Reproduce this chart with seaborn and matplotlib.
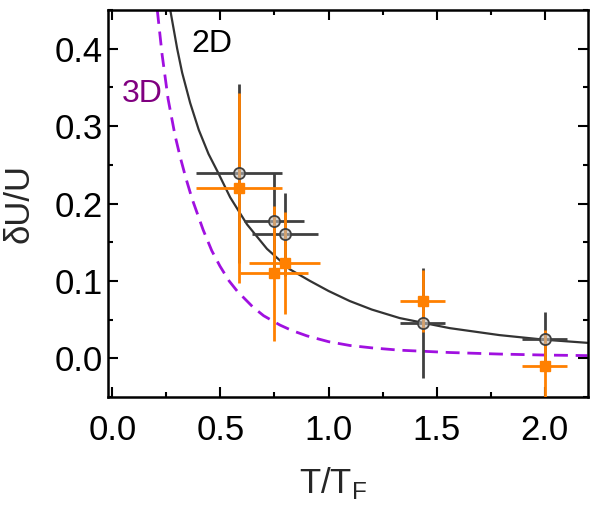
import matplotlib
matplotlib.use("Agg")
import matplotlib.pyplot as plt
from matplotlib.ticker import MultipleLocator, FormatStrFormatter
import pandas as pd
import seaborn as sns

# theory curves
x_2d = [0.268, 0.30, 0.323, 0.36, 0.40, 0.445, 0.489, 0.545, 0.623, 0.715,
        0.821, 0.914, 1.0, 1.098, 1.2, 1.329, 1.435, 1.56, 1.79, 2.0, 2.197]
y_2d = [0.450, 0.400, 0.369, 0.330, 0.295, 0.264, 0.240, 0.208, 0.173, 0.1415,
        0.115, 0.100, 0.087, 0.074, 0.063, 0.052, 0.046, 0.039, 0.030, 0.024, 0.020]
x_3d = [0.208, 0.23, 0.258, 0.29, 0.314, 0.34, 0.369, 0.42, 0.46, 0.498, 0.54,
        0.577, 0.651, 0.70, 0.775, 0.83, 0.90, 1.0, 1.098, 1.2, 1.329, 1.56,
        1.79, 2.0, 2.197]
y_3d = [0.450, 0.393, 0.335, 0.288, 0.260, 0.233, 0.206, 0.166, 0.139, 0.119,
        0.100, 0.087, 0.066, 0.055, 0.043, 0.036, 0.029, 0.0215, 0.0166, 0.0135,
        0.0105, 0.0075, 0.0055, 0.0042, 0.0035]

# measured points (gray circles / orange squares)
gray_x = [0.586, 0.748, 0.798, 1.435, 2.000]
gray_y = [0.239, 0.177, 0.160, 0.046, 0.025]
gray_xerr = [0.20, 0.14, 0.152, 0.104, 0.104]
gray_yerr = [0.116, 0.062, 0.054, 0.071, 0.035]

orange_x = [0.586, 0.748, 0.798, 1.435, 2.000]
orange_y = [0.220, 0.110, 0.123, 0.074, -0.010]
orange_xerr = [0.20, 0.157, 0.164, 0.104, 0.105]
orange_yerr = [0.123, 0.087, 0.066, 0.040, 0.047]

sns.set_theme(style="ticks")
plt.rcParams['font.family'] = ['Liberation Sans', 'DejaVu Sans']
plt.rcParams['mathtext.fontset'] = 'custom'
plt.rcParams['mathtext.rm'] = 'Liberation Sans'

fig = plt.figure(figsize=(6.06, 5.16), dpi=100)
ax = fig.add_axes([0.1782, 0.2306, 0.7921, 0.75])

curves = pd.concat([
    pd.DataFrame({"x": x_2d, "y": y_2d, "dim": "2D"}),
    pd.DataFrame({"x": x_3d, "y": y_3d, "dim": "3D"}),
])
sns.lineplot(data=curves[curves.dim == "2D"], x="x", y="y", color="#333333",
             lw=1.6, ax=ax, zorder=1, sort=False)
sns.lineplot(data=curves[curves.dim == "3D"], x="x", y="y", color="#A010E0",
             lw=2.0, ax=ax, zorder=1, sort=False, linestyle=(0, (5, 2.8)))

ax.errorbar(gray_x, gray_y, xerr=gray_xerr, yerr=gray_yerr, fmt="none",
            ecolor="#404040", elinewidth=2.0, capsize=0, zorder=2)
ax.errorbar(orange_x, orange_y, xerr=orange_xerr, yerr=orange_yerr, fmt="none",
            ecolor="#FF8000", elinewidth=2.0, capsize=0, zorder=3)
ax.plot(gray_x, gray_y, "o", ms=8, mfc=(0.72, 0.72, 0.72, 0.6), mec="#404040",
        mew=1.3, zorder=4)
ax.plot(orange_x, orange_y, "s", ms=7.5, color="#FF8000", zorder=5)

ax.text(0.461, 0.406, "2D", fontsize=23, color="black", ha="center", va="center")
ax.text(0.138, 0.342, "3D", fontsize=23, color="#800080", ha="center", va="center")

ax.set_xlim(-0.02, 2.2)
ax.set_ylim(-0.05, 0.45)
ax.xaxis.set_major_locator(MultipleLocator(0.5))
ax.xaxis.set_minor_locator(MultipleLocator(0.25))
ax.yaxis.set_major_locator(MultipleLocator(0.1))
ax.yaxis.set_minor_locator(MultipleLocator(0.05))
ax.xaxis.set_major_formatter(FormatStrFormatter('%.1f'))
ax.yaxis.set_major_formatter(FormatStrFormatter('%.1f'))
ax.tick_params(which="both", direction="in", top=True, right=True,
               width=1.5, colors="black", labelsize=25)
ax.tick_params(which="major", length=7)
ax.tick_params(which="minor", length=3.5)
ax.tick_params(axis="x", pad=12)
ax.tick_params(axis="y", pad=4)
for s in ax.spines.values():
    s.set_linewidth(1.8)
    s.set_color("black")

ax.set_xlabel(r"T/T$_\mathregular{F}$", fontsize=25)
ax.set_ylabel("δU/U", fontsize=25)
ax.xaxis.set_label_coords((333 - 108) / 480, -0.175)
ax.yaxis.set_label_coords(-0.15, 0.5)

plt.savefig("out.png", dpi=100)
